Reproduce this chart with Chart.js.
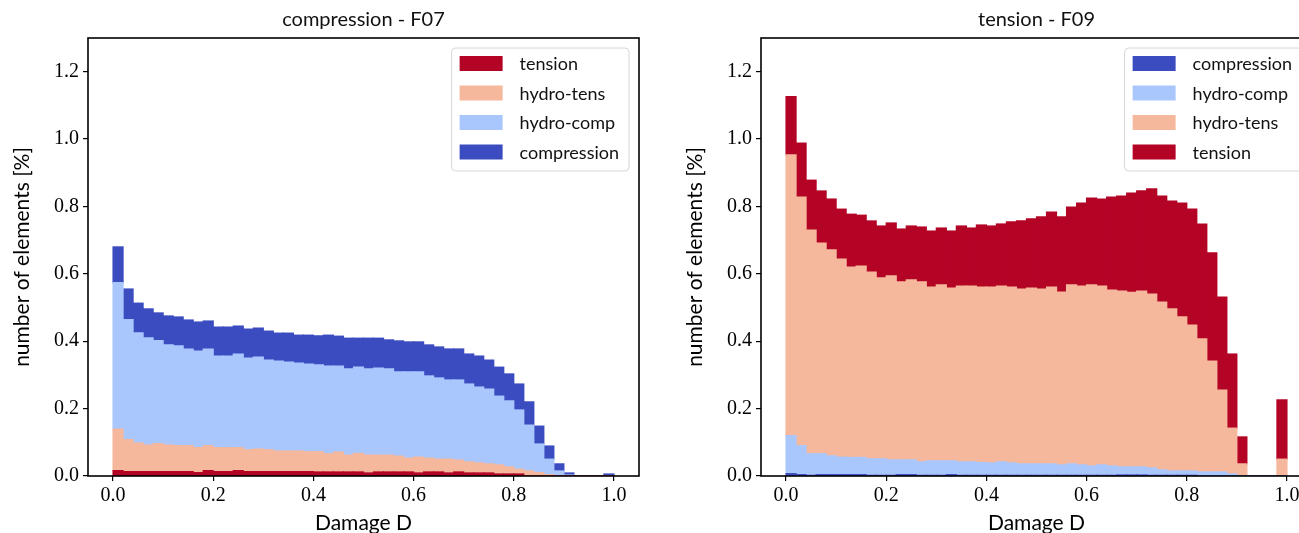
<!DOCTYPE html>
<html>
<head>
<meta charset="utf-8">
<script src="https://cdn.jsdelivr.net/npm/chart.js@4.4.1/dist/chart.umd.min.js"></script>
<style>
  html, body { margin: 0; padding: 0; background: #fff; overflow: hidden; }
  body { width: 1299px; height: 533px; position: relative; }
  canvas { position: absolute; top: 0; }
  #left { left: 0; }
  #right { left: 673px; }
</style>
</head>
<body>
<canvas id="left" width="650" height="533"></canvas>
<canvas id="right" width="650" height="533"></canvas>
<script>
// histogram bins: 50 bins of width 0.02 on damage D in [0, 1]
const binWidth = 0.02;
const binCenters = Array.from({ length: 50 }, (_, i) => +(binWidth * (i + 0.5)).toFixed(3));
const xTicks = [0.0, 0.2, 0.4, 0.6, 0.8, 1.0];
const yTicks = [0.0, 0.2, 0.4, 0.6, 0.8, 1.0, 1.2];

// "compression - F07" (values in % per bin, per class)
const f07Tension = [.016,.013,.013,.013,.013,.013,.013,.013,.010,.016, .013,.013,.016,.013,.013,.013,.013,.013,.013,.013,
  .012,.012,.012,.012,.012,.009,.012,.012,.012,.012, .009,.012,.012,.009,.012,.009,.009,.009,.006,.006,
  .006,0,0,0,0,0,0,0,0,0];
const f07HydroTens = [.123,.095,.085,.079,.083,.079,.077,.077,.074,.074, .071,.071,.068,.065,.067,.065,.061,.061,.061,.059,
  .060,.054,.059,.050,.055,.053,.050,.050,.047,.041, .047,.041,.038,.041,.035,.033,.030,.027,.027,.021,
  .014,.015,.010,.004,0,0,0,0,0,0];
const f07HydroComp = [.435,.356,.327,.318,.306,.297,.296,.287,.287,.287, .272,.272,.278,.272,.273,.266,.267,.264,.261,.260,
  .258,.260,.255,.256,.256,.256,.258,.256,.250,.256, .253,.244,.241,.235,.238,.231,.225,.222,.204,.196,
  .176,.136,.085,.046,.015,.003,0,0,0,0];
const f07Compression = [.106,.091,.088,.086,.082,.086,.086,.086,.086,.083, .086,.086,.083,.086,.086,.086,.083,.086,.083,.086,
  .086,.092,.089,.091,.086,.091,.089,.086,.092,.089, .089,.092,.092,.092,.092,.089,.092,.086,.086,.080,
  .077,.069,.053,.039,.021,.006,0,0,0,.006];

// "tension - F09"
const f09Compression = [.007,.004,.002,.004,.004,.004,.004,.004,.002,.002, .002,.004,.004,.002,.002,.002,.004,.002,.002,.002,
  .002,.002,.002,.002,.002,.002,.002,.002,.002,.002, .002,.002,.002,.003,.003,.003,.002,.002,.002,.002,
  .002,0,0,0,0,0,0,0,0,0];
const f09HydroComp = [.113,.086,.064,.062,.056,.052,.051,.051,.049,.049, .046,.044,.044,.040,.043,.043,.041,.040,.040,.038,
  .037,.040,.037,.034,.034,.034,.034,.031,.034,.031, .028,.031,.028,.024,.024,.024,.022,.016,.013,.013,
  .013,.012,.012,.012,.006,0,0,0,0,0];
const f09HydroTens = [.833,.738,.664,.625,.611,.588,.565,.568,.554,.537, .546,.528,.534,.534,.516,.522,.513,.522,.522,.521,
  .522,.522,.522,.519,.522,.519,.525,.513,.531,.531, .537,.531,.522,.522,.518,.522,.516,.498,.481,.457,
  .433,.395,.329,.243,.136,.036,0,0,0,.050];
const f09Tension = [.173,.160,.148,.155,.151,.148,.157,.151,.152,.154, .157,.157,.160,.163,.166,.169,.169,.178,.172,.184,
  .181,.184,.193,.202,.205,.214,.222,.223,.231,.246, .258,.258,.276,.282,.295,.297,.312,.315,.320,.338,
  .344,.341,.321,.276,.220,.080,0,0,0,.176];

const colors = {
    'tension': '#b40426',
    'hydro-tens': '#f5b89c',
    'hydro-comp': '#aac7fd',
    'compression': '#3b4cc0'
};

const sansFont = 'Lato, "DejaVu Sans", sans-serif';
const serifFont = '"Liberation Serif", "DejaVu Serif", serif';

// full black box around the axes + title centred over the axes
const framePlugin = {
    id: 'frame',
    afterDatasetsDraw(chart) {
        const a = chart.chartArea;
        const ctx = chart.ctx;
        ctx.save();
        ctx.strokeStyle = '#000';
        ctx.lineWidth = 1.6;
        ctx.strokeRect(a.left, a.top, a.right - a.left, a.bottom - a.top);
        ctx.font = '20px ' + sansFont;
        ctx.fillStyle = '#111';
        ctx.textAlign = 'center';
        ctx.textBaseline = 'middle';
        ctx.fillText(chart.options.panelTitle, (a.left + a.right) / 2, 20);
        ctx.restore();
    }
};

// matplotlib-like legend in the upper right corner
const legendPlugin = {
    id: 'boxLegend',
    afterDraw(chart) {
        const ctx = chart.ctx;
        const a = chart.chartArea;
        const sets = chart.data.datasets;
        ctx.save();
        ctx.font = '18px ' + sansFont;
        const textW = Math.max(...sets.map(d => ctx.measureText(d.label).width));
        const w = 8 + 43 + 17 + textW + 10;
        const h = 123;
        const x = a.right - 10 - w;
        const y = a.top + 10;
        ctx.beginPath();
        ctx.roundRect(x, y, w, h, 4);
        ctx.fillStyle = 'rgba(255,255,255,0.8)';
        ctx.fill();
        ctx.strokeStyle = '#d6d6d6';
        ctx.lineWidth = 1;
        ctx.stroke();
        sets.forEach((d, i) => {
            const cy = y + 15.5 + i * 29.5;
            ctx.fillStyle = d.backgroundColor;
            ctx.fillRect(x + 8, cy - 7.5, 43, 15);
            ctx.fillStyle = '#111';
            ctx.textBaseline = 'middle';
            ctx.textAlign = 'left';
            ctx.fillText(d.label, x + 68, cy + 1);
        });
        ctx.restore();
    }
};

function makeChart(canvasId, title, labels, series) {
    const ctx = document.getElementById(canvasId).getContext('2d');
    return new Chart(ctx, {
        type: 'bar',
        data: {
            datasets: labels.map((label, k) => ({
                label: label,
                data: binCenters.map((x, i) => ({ x: x, y: series[k][i] })),
                backgroundColor: colors[label],
                borderWidth: 0,
                inflateAmount: 0.6,
                barPercentage: 1.0,
                categoryPercentage: 1.0
            }))
        },
        options: {
            panelTitle: title,
            responsive: false,
            animation: false,
            devicePixelRatio: 1,
            layout: { padding: { left: 0, right: 11, top: 38, bottom: 0 } },
            plugins: {
                legend: { display: false },
                tooltip: { enabled: false },
                title: { display: false }
            },
            scales: {
                x: {
                    type: 'linear',
                    min: -0.05,
                    max: 1.05,
                    stacked: true,
                    offset: false,
                    afterBuildTicks: axis => { axis.ticks = xTicks.map(v => ({ value: v })); },
                    afterFit: axis => { axis.height = 57; },
                    grid: { offset: false, drawOnChartArea: false, drawTicks: true, tickLength: 5, color: '#000', lineWidth: 1.2 },
                    border: { display: false },
                    ticks: {
                        color: '#000',
                        maxRotation: 0,
                        autoSkip: false,
                        padding: 3,
                        font: { family: serifFont, size: 20 },
                        callback: v => v.toFixed(1)
                    },
                    title: {
                        display: true,
                        text: 'Damage D',
                        color: '#000',
                        font: { family: sansFont, size: 21 },
                        padding: { top: 0, bottom: -3 }
                    }
                },
                y: {
                    min: 0,
                    max: 1.3,
                    stacked: true,
                    afterBuildTicks: axis => { axis.ticks = yTicks.map(v => ({ value: v })); },
                    afterFit: axis => { axis.width = 88; },
                    grid: { drawOnChartArea: false, drawTicks: true, tickLength: 5, color: '#000', lineWidth: 1.2 },
                    border: { display: false },
                    ticks: {
                        color: '#000',
                        padding: 4,
                        font: { family: serifFont, size: 20 },
                        callback: v => v.toFixed(1)
                    },
                    title: {
                        display: true,
                        text: 'number of elements [%]',
                        color: '#000',
                        font: { family: sansFont, size: 21 },
                        padding: { top: 10, bottom: 0 }
                    }
                }
            }
        },
        plugins: [framePlugin, legendPlugin]
    });
}

makeChart('left', 'compression - F07',
    ['tension', 'hydro-tens', 'hydro-comp', 'compression'],
    [f07Tension, f07HydroTens, f07HydroComp, f07Compression]);

makeChart('right', 'tension - F09',
    ['compression', 'hydro-comp', 'hydro-tens', 'tension'],
    [f09Compression, f09HydroComp, f09HydroTens, f09Tension]);
</script>
</body>
</html>
